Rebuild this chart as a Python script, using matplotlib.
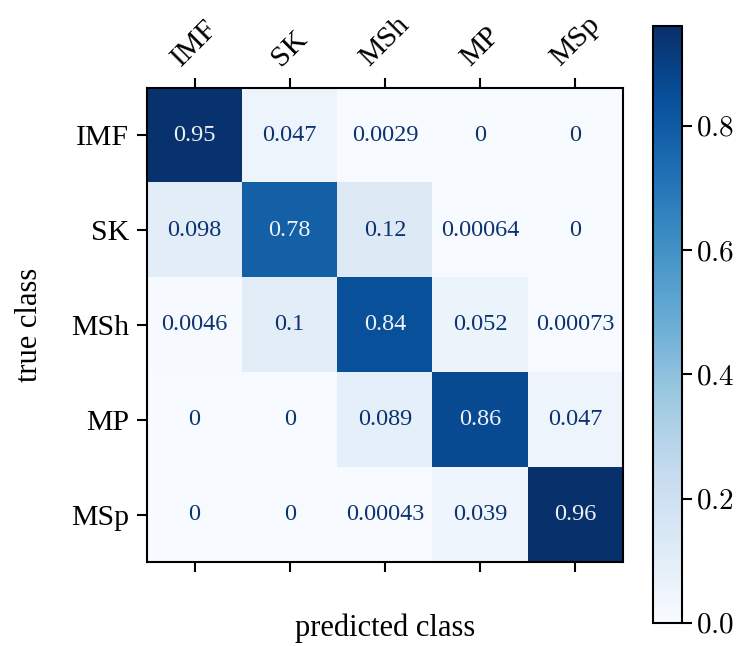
import numpy as np
import matplotlib
matplotlib.use("Agg")
import matplotlib.pyplot as plt

plt.rcParams['font.family'] = ['Liberation Serif', 'DejaVu Serif']
plt.rcParams['mathtext.fontset'] = 'cm'

classes = ["IMF", "SK", "MSh", "MP", "MSp"]
row_imf = [0.95, 0.047, 0.0029, 0, 0]
row_sk = [0.098, 0.78, 0.12, 0.00064, 0]
row_msh = [0.0046, 0.1, 0.84, 0.052, 0.00073]
row_mp = [0, 0, 0.089, 0.86, 0.047]
row_msp = [0, 0, 0.00043, 0.039, 0.96]
cbar_ticks = [0.0, 0.2, 0.4, 0.6, 0.8]

cm = np.array([row_imf, row_sk, row_msh, row_mp, row_msp], dtype=float)

fig = plt.figure(figsize=(7.42, 6.46), dpi=100)
ax = fig.add_axes([0.198, 0.130, 0.6415, 0.734])
cax = fig.add_axes([0.880, 0.036, 0.039, 0.923])

im = ax.imshow(cm, cmap='Blues', vmin=0, vmax=cm.max(), aspect='auto')

thresh = cm.max() / 2
for i in range(cm.shape[0]):
    for j in range(cm.shape[1]):
        v = cm[i, j]
        txt = "0" if v == 0 else f"{v:.2g}"
        color = "#eef2f8" if v > thresh else "#0c3370"
        ax.text(j, i, txt, ha='center', va='center', color=color, fontsize=17.5)

ax.set_xticks(range(len(classes)))
ax.set_yticks(range(len(classes)))
ax.set_xticklabels(classes, rotation=45, ha='center', fontsize=21.5)
ax.set_yticklabels(classes, fontsize=21.5)
ax.tick_params(axis='x', top=True, bottom=True, labeltop=True, labelbottom=False,
               length=7, width=1.5, pad=5)
ax.tick_params(axis='y', left=True, right=False, length=7, width=1.5, pad=6)
for s in ax.spines.values():
    s.set_linewidth(1.5)
ax.set_xlabel("predicted class", fontsize=22)
ax.xaxis.set_label_coords(0.5, -0.139)
ax.xaxis.label.set_va('center')
ax.set_ylabel("true class", fontsize=22)
ax.yaxis.set_label_coords(-0.246, 0.5)
ax.yaxis.label.set_va('center')

cb = fig.colorbar(im, cax=cax, ticks=cbar_ticks)
cb.ax.set_yticklabels([f"${t:.1f}$" for t in cbar_ticks], fontsize=21)
cb.ax.tick_params(length=7, width=1.5)
cb.outline.set_linewidth(1.5)

fig.savefig("out.png", dpi=100)
